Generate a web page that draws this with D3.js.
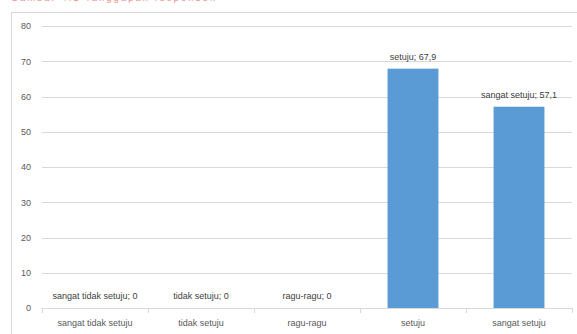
<!DOCTYPE html>
<html>
<head>
<meta charset="utf-8">
<script src="https://cdn.jsdelivr.net/npm/d3@7"></script>
<style>
  html, body { margin: 0; padding: 0; background: #fff; }
  svg { display: block; }
  text { font-family: "Liberation Sans", Arial, sans-serif; }
</style>
</head>
<body>
<svg id="chart" width="577" height="334"></svg>
<script>
// Survey responses: share of respondents per answer
const categories = ["sangat tidak setuju", "tidak setuju", "ragu-ragu", "setuju", "sangat setuju"];
const values = [0, 0, 0, 67.9, 57.1];
const yTicks = [0, 10, 20, 30, 40, 50, 60, 70, 80];

const W = 577, H = 334;
const margin = { left: 42, right: 5, top: 26, bottom: 26 };
const svg = d3.select("#chart");

// heading line, running off the top edge
svg.append("text")
  .attr("x", 11).attr("y", 1)
  .attr("fill", "#f28a8a")
  .attr("font-size", 9)
  .attr("textLength", 204)
  .text("Gambar 4.1 Tanggapan responden");

// chart frame (continues past the right and bottom edges)
svg.append("rect")
  .attr("x", 11.5).attr("y", 12.5)
  .attr("width", 600).attr("height", 340)
  .attr("fill", "#fff")
  .attr("stroke", "#d9d9d9");

const x = d3.scaleBand()
  .domain(categories)
  .range([margin.left, W - margin.right])
  .paddingInner(0.52).paddingOuter(0.26);

const y = d3.scaleLinear()
  .domain([0, 80])
  .range([H - margin.bottom, margin.top]);

// horizontal gridlines
svg.append("g")
  .selectAll("line")
  .data(yTicks.filter(d => d > 0))
  .join("line")
  .attr("x1", margin.left).attr("x2", W - margin.right)
  .attr("y1", d => Math.round(y(d)) + 0.5).attr("y2", d => Math.round(y(d)) + 0.5)
  .attr("stroke", "#d9d9d9");

// y axis labels
const yAxis = d3.axisLeft(y).tickValues(yTicks).tickSize(0).tickPadding(11);
svg.append("g")
  .attr("transform", `translate(${margin.left},0)`)
  .call(yAxis)
  .call(g => g.select(".domain").remove())
  .call(g => g.selectAll("text").attr("fill", "#595959").attr("font-size", 9)
    .attr("font-family", "Liberation Sans, Arial, sans-serif"));

// bars
svg.append("g")
  .selectAll("rect")
  .data(categories.map((c, i) => ({ c, v: values[i] })))
  .join("rect")
  .attr("x", d => x(d.c))
  .attr("width", x.bandwidth())
  .attr("y", d => y(d.v))
  .attr("height", d => y(0) - y(d.v))
  .attr("fill", "#5b9bd5");

// category axis with boundary ticks
const x0 = y(0);
const step = x.step();
const bounds = d3.range(categories.length + 1).map(i => margin.left + i * step);
const xg = svg.append("g");
xg.append("line")
  .attr("x1", margin.left).attr("x2", W - margin.right)
  .attr("y1", Math.round(x0) + 0.5).attr("y2", Math.round(x0) + 0.5)
  .attr("stroke", "#d9d9d9");
xg.selectAll("line.tick")
  .data(bounds)
  .join("line")
  .attr("class", "tick")
  .attr("x1", d => Math.round(d) + 0.5).attr("x2", d => Math.round(d) + 0.5)
  .attr("y1", Math.round(x0)).attr("y2", Math.round(x0) + 5)
  .attr("stroke", "#d9d9d9");
xg.selectAll("text")
  .data(categories)
  .join("text")
  .attr("x", d => x(d) + x.bandwidth() / 2)
  .attr("y", x0 + 18)
  .attr("text-anchor", "middle")
  .attr("fill", "#595959")
  .attr("font-size", 9)
  .text(d => d);

// data labels
const fmt = v => String(v).replace(".", ",");
svg.append("g")
  .selectAll("text")
  .data(categories.map((c, i) => ({ c, v: values[i] })))
  .join("text")
  .attr("x", d => x(d.c) + x.bandwidth() / 2)
  .attr("y", d => y(d.v) - 9)
  .attr("text-anchor", "middle")
  .attr("fill", "#404040")
  .attr("font-size", 9)
  .text(d => `${d.c}; ${fmt(d.v)}`);
</script>
</body>
</html>
